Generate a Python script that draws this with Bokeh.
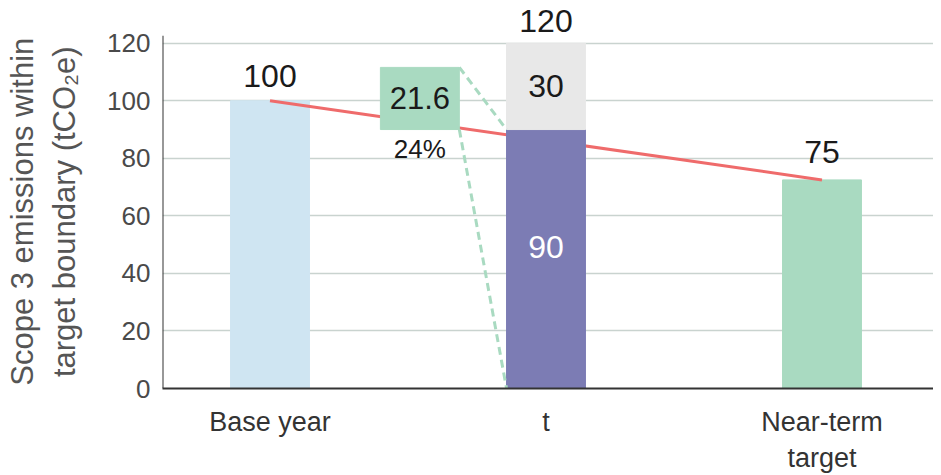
from bokeh.plotting import figure
from bokeh.models import Range1d, FixedTicker, Label
from bokeh.embed import file_html
from bokeh.resources import INLINE

# ---- data ----
categories = ["Base year", "t", "Near-term\ntarget"]
bar_values = [100, 90, 72.5]
bar_labels = ["100", "90", "75"]
unallocated = 30
total_label = "120"
reduction_value = 21.6
reduction_label = "21.6"
reduction_pct = "24%"
trajectory = [100, 72.5]
y_ticks = [0, 20, 40, 60, 80, 100, 120]
y_title_lines = ["Scope 3 emissions within", "target boundary (tCO\u2082e)"]

# ---- style ----
FONT = "Liberation Sans"
W = 0.286
BOX_X = 0.543
xs = [0, 1, 2]
X0, X1 = -0.3895, 2.404
Y_AXIS_TOP = 122.6
PAD = "\u00a0" * 4   # nudges the rotated title down to centre it on the drawn spine
C_BASE = "#cfe5f2"
C_PURPLE = "#7c7cb4"
C_GREY = "#e8e8e8"
C_GREEN = "#a9dac1"
C_RED = "#ef6b6b"

p = figure(width=933, height=475, output_backend="svg", toolbar_location=None,
           x_range=Range1d(X0, X1), y_range=Range1d(0, 134.85),
           min_border_left=162, min_border_right=0, min_border_top=0,
           min_border_bottom=87)
p.outline_line_color = None
p.background_fill_color = "white"
p.border_fill_color = "white"

# x axis with category labels
p.xaxis.ticker = FixedTicker(ticks=xs)
p.xaxis.major_label_overrides = {x: c for x, c in zip(xs, categories)}
p.xaxis.axis_line_color = "#333333"
p.xaxis.axis_line_width = 2
p.xaxis.major_tick_line_color = None
p.xaxis.major_tick_out = 0
p.xaxis.major_tick_in = 0
p.xaxis.minor_tick_line_color = None
p.xaxis.major_label_text_font = FONT
p.xaxis.major_label_text_font_size = "27px"
p.xaxis.major_label_text_color = "#333333"
p.xaxis.major_label_standoff = 18

# y axis
p.yaxis.ticker = FixedTicker(ticks=y_ticks)
p.yaxis.axis_line_color = None
p.yaxis.major_tick_line_color = None
p.yaxis.major_tick_out = 0
p.yaxis.major_tick_in = 0
p.yaxis.minor_tick_line_color = None
p.yaxis.major_label_text_font = FONT
p.yaxis.major_label_text_font_size = "26px"
p.yaxis.major_label_text_color = "#4a4a4a"
p.yaxis.major_label_standoff = 12
p.yaxis.axis_label = "\n".join(line + PAD for line in y_title_lines)
p.yaxis.axis_label_text_font = FONT
p.yaxis.axis_label_text_font_size = "31px"
p.yaxis.axis_label_text_font_style = "normal"
p.yaxis.axis_label_text_color = "#555555"
p.yaxis.axis_label_standoff = 22

p.xgrid.grid_line_color = None
p.ygrid.ticker = FixedTicker(ticks=y_ticks)
p.ygrid.grid_line_color = "#c9d3cf"
p.ygrid.grid_line_width = 1.5

# visible y-axis spine (stops just above the top tick)
p.segment(x0=[X0], y0=[0], x1=[X0], y1=[Y_AXIS_TOP], line_color="#333333", line_width=2)

# base & near-term bars
p.vbar(x=[xs[0]], top=[bar_values[0]], width=W, color=C_BASE)
p.vbar(x=[xs[2]], top=[bar_values[2]], width=W, color=C_GREEN)

# trajectory line
p.line(x=[xs[0], xs[2]], y=trajectory, line_color=C_RED, line_width=3)

# t bar stack
p.vbar(x=[xs[1]], top=[bar_values[1]], width=W, color=C_PURPLE)
p.vbar(x=[xs[1]], bottom=[bar_values[1]], top=[bar_values[1] + unallocated],
       width=W, color=C_GREY)

# reduction box
p.quad(left=[BOX_X - W / 2], right=[BOX_X + W / 2], bottom=[bar_values[1]],
       top=[bar_values[1] + reduction_value], color=C_GREEN)

# dashed connectors
p.line(x=[BOX_X + W / 2, xs[1] - W / 2], y=[bar_values[1] + reduction_value, bar_values[1]],
       line_color=C_GREEN, line_width=3, line_dash="8 5")
p.line(x=[BOX_X + W / 2, xs[1] - W / 2], y=[bar_values[1], 0],
       line_color=C_GREEN, line_width=3, line_dash="8 5")


def lab(x, y, text, size="32px", color="#1a1a1a", yoff=0):
    p.add_layout(Label(x=x, y=y, text=text, text_font=FONT, text_font_size=size,
                       text_color=color, text_align="center", text_baseline="middle",
                       y_offset=yoff))


# value labels
lab(xs[0], bar_values[0], bar_labels[0], yoff=25)
lab(xs[2], bar_values[2], bar_labels[2], yoff=28)
lab(xs[1], bar_values[1] + unallocated, total_label, yoff=22)
lab(xs[1], bar_values[1] + unallocated / 2, str(unallocated))
lab(xs[1], bar_values[1] * 0.545, bar_labels[1], color="white")
lab(BOX_X, bar_values[1] + reduction_value / 2, reduction_label, size="31px")
lab(BOX_X, bar_values[1], reduction_pct, size="26px", yoff=-19)

open("out.html", "w").write(file_html(p, INLINE))
